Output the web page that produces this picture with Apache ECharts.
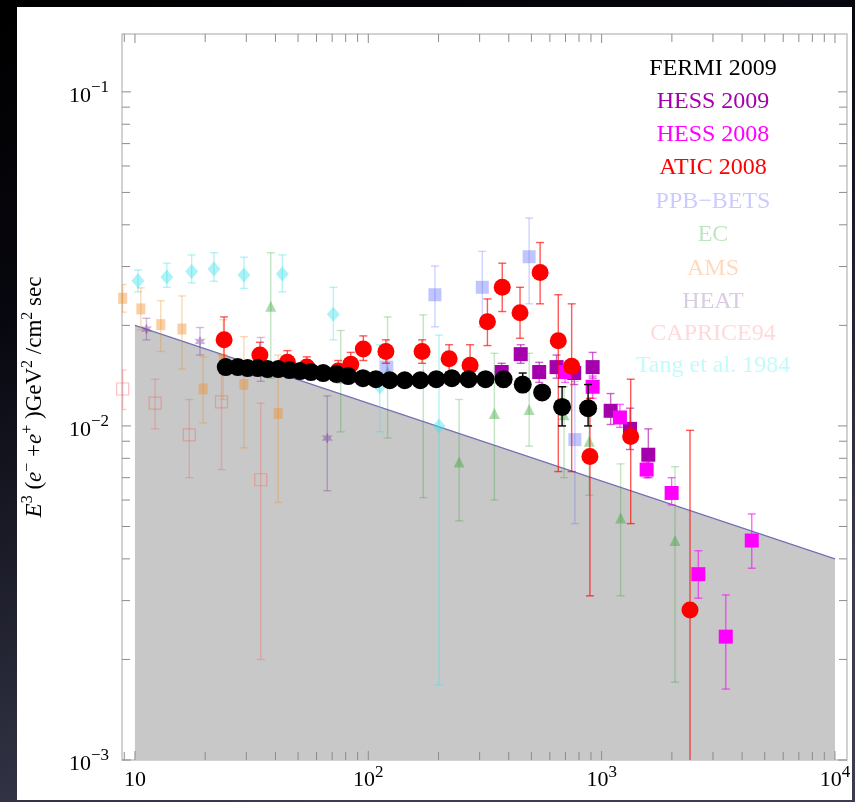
<!DOCTYPE html>
<html>
<head>
<meta charset="utf-8">
<script src="https://cdn.jsdelivr.net/npm/echarts@6/dist/echarts.min.js"></script>
<style>
  html, body { margin: 0; padding: 0; background: #000; }
  #chart { width: 855px; height: 802px; }
</style>
</head>
<body>
<div id="chart"></div>
<script>
// ---- Data: cosmic-ray electron spectrum, E^3 x flux (GeV^2 / cm^2 sec) ----
// Each row: [energy (GeV), E^3 flux, lower end of error bar, upper end of error bar]

const SERIES_NAMES = ['FERMI 2009', 'HESS 2009', 'HESS 2008', 'ATIC 2008', 'PPB\u2212BETS',
  'EC', 'AMS', 'HEAT', 'CAPRICE94', 'Tang et al. 1984'];

const FERMI_2009 = [
  [24.5, 0.0150, 0.0146, 0.0154], [27.6, 0.0150, 0.0146, 0.0154], [30.4, 0.0149, 0.0145, 0.0153],
  [33.6, 0.0149, 0.0145, 0.0153], [37.0, 0.0148, 0.0144, 0.0152], [41.1, 0.0148, 0.0144, 0.0152],
  [45.9, 0.0147, 0.0143, 0.0151], [51.0, 0.0146, 0.0142, 0.0150], [56.8, 0.0145, 0.0141, 0.0149],
  [64.1, 0.0144, 0.0140, 0.0148], [73.1, 0.0143, 0.0139, 0.0147], [82.0, 0.0141, 0.0137, 0.0145],
  [94.9, 0.0139, 0.0135, 0.0143], [107.8, 0.0138, 0.0134, 0.0142], [123.6, 0.0137, 0.0133, 0.0141],
  [143.2, 0.0137, 0.0133, 0.0141], [167.1, 0.0137, 0.0132, 0.0142], [195.7, 0.0138, 0.0133, 0.0143],
  [228.1, 0.0139, 0.0134, 0.0144], [269, 0.0138, 0.0132, 0.0144], [318, 0.0138, 0.0132, 0.0144],
  [380, 0.0138, 0.0131, 0.0145], [459, 0.0133, 0.0126, 0.0144], [556, 0.0126, 0.0120, 0.0131],
  [677, 0.0114, 0.0100, 0.0131], [875, 0.0113, 0.0100, 0.0133]
];

const HESS_2009 = [
  [373, 0.0145, 0.0137, 0.0154], [450, 0.0164, 0.0154, 0.0175], [540, 0.0145, 0.0135, 0.0155],
  [641, 0.0150, 0.0139, 0.0163], [763, 0.0144, 0.0133, 0.0155], [915, 0.0150, 0.0139, 0.0166],
  [1093, 0.0111, 0.0101, 0.0125], [1323, 0.0098, 0.0085, 0.0113], [1585, 0.0082, 0.0070, 0.0098]
];

const HESS_2008 = [
  [697, 0.0145, 0.0135, 0.0155], [915, 0.0131, 0.0121, 0.0141], [1198, 0.0106, 0.0099, 0.0116],
  [1559, 0.0074, 0.0070, 0.0078], [1995, 0.0063, 0.0058, 0.0070], [2597, 0.0036, 0.00305, 0.00423],
  [3404, 0.00234, 0.00163, 0.00312], [4399, 0.00454, 0.00375, 0.00545]
];

const ATIC_2008 = [
  [24.1, 0.0181, 0.0150, 0.0212], [34.3, 0.0163, 0.0149, 0.0178], [45.0, 0.0155, 0.0143, 0.0168],
  [54.5, 0.0150, 0.0140, 0.0161], [74.3, 0.0146, 0.0136, 0.0157], [84.1, 0.0153, 0.0142, 0.0166],
  [95.2, 0.0170, 0.0157, 0.0186], [119, 0.0167, 0.0154, 0.0181], [170, 0.0167, 0.0154, 0.0181],
  [222, 0.0159, 0.0145, 0.0175], [273, 0.0152, 0.0131, 0.0175], [324, 0.0205, 0.0174, 0.0240],
  [375, 0.0260, 0.0220, 0.0307], [447, 0.0218, 0.0183, 0.0260], [545, 0.0288, 0.0232, 0.0354],
  [652, 0.0180, 0.0073, 0.0247], [744, 0.0151, 0.0073, 0.0232], [891, 0.0081, 0.0031, 0.0121],
  [1332, 0.0093, 0.0051, 0.0138], [2392, 0.00281, 0.0007, 0.0097]
];

const PPB_BETS = [
  [120, 0.0150, 0.0135, 0.0166], [193, 0.0247, 0.0198, 0.0301], [308, 0.0260, 0.0198, 0.0333],
  [489, 0.0321, 0.0232, 0.0419], [768, 0.0091, 0.0051, 0.0136]
];

const EC = [
  [38.2, 0.0228, 0.0139, 0.0330], [76.2, 0.0139, 0.0096, 0.0193], [121, 0.0145, 0.0092, 0.0212],
  [172, 0.0142, 0.0061, 0.0215], [245, 0.0078, 0.0052, 0.0120], [347, 0.0109, 0.0060, 0.0165],
  [489, 0.0112, 0.0087, 0.0165], [690, 0.0108, 0.0070, 0.0131], [885, 0.0090, 0.0062, 0.0115],
  [1206, 0.0053, 0.0031, 0.0077], [2063, 0.00454, 0.00171, 0.00755]
];

const AMS = [
  [8.86, 0.0241, 0.0219, 0.0265], [10.6, 0.0224, 0.0194, 0.0259], [12.9, 0.0201, 0.0167, 0.0237],
  [15.9, 0.0195, 0.0148, 0.0245], [19.6, 0.0129, 0.0102, 0.0161], [23.9, 0.0158, 0.0120, 0.0208],
  [29.3, 0.0133, 0.0086, 0.0185], [41.1, 0.0109, 0.0059, 0.0163]
];

const HEAT = [
  [11.2, 0.0195, 0.0181, 0.0210], [19.0, 0.0179, 0.0163, 0.0197],
  [34.6, 0.0160, 0.0136, 0.0184], [66.7, 0.0092, 0.0064, 0.0123]
];

const CAPRICE94 = [
  [8.86, 0.0129, 0.0112, 0.0147], [12.2, 0.0117, 0.0098, 0.0138], [17.1, 0.0094, 0.0070, 0.0120],
  [23.5, 0.0118, 0.0074, 0.0163], [34.6, 0.0069, 0.0020, 0.0117]
];

const TANG_1984 = [
  [10.3, 0.0272, 0.0252, 0.0293], [13.7, 0.0279, 0.0260, 0.0307], [17.5, 0.0290, 0.0268, 0.0325],
  [21.8, 0.0295, 0.0271, 0.0330], [29.3, 0.0283, 0.0258, 0.0320], [42.8, 0.0285, 0.0252, 0.0325],
  [70.8, 0.0216, 0.0181, 0.0260], [112, 0.0131, 0.0096, 0.0175], [201, 0.0100, 0.00168, 0.0187]
];

// Power-law reference line, shaded underneath
const LIMIT_LINE = [[10, 0.02], [10000, 0.004]];

// Axis ranges
const X_MIN = 8.8, X_MAX = 11260;
const Y_MIN = 0.001, Y_MAX = 0.149;

// ---- Styling ----
const FONT = '"Liberation Serif", "DejaVu Serif", serif';

// six-pointed star marker
function starPath() {
  const pts = [];
  for (let i = 0; i < 12; i++) {
    const r = i % 2 === 0 ? 10 : 5;
    const a = -Math.PI / 2 + i * Math.PI / 6;
    pts.push((r * Math.cos(a)).toFixed(2) + ',' + (r * Math.sin(a)).toFixed(2));
  }
  return 'path://M' + pts.join(' L') + ' Z';
}

const STYLES = [
  // drawn from bottom to top
  { name: 'Tang et al. 1984', rows: TANG_1984, symbol: 'diamond', size: [13, 15], fill: 'rgba(60,225,235,0.42)', bar: 'rgba(60,225,235,0.38)', text: '#c2fbfb' },
  { name: 'CAPRICE94', rows: CAPRICE94, symbol: 'rect', size: 12, fill: 'rgba(0,0,0,0)', border: 'rgba(255,90,90,0.4)', bar: 'rgba(255,90,90,0.3)', text: '#ffdada' },
  { name: 'HEAT', rows: HEAT, symbol: starPath(), size: 11, fill: 'rgba(110,40,150,0.38)', bar: 'rgba(110,40,150,0.3)', text: '#dacbe2' },
  { name: 'AMS', rows: AMS, symbol: 'rect', size: [9, 11], fill: 'rgba(240,140,40,0.42)', bar: 'rgba(240,140,40,0.33)', text: '#ffd9bb' },
  { name: 'EC', rows: EC, symbol: 'triangle', size: [11, 11], fill: 'rgba(40,160,40,0.38)', bar: 'rgba(40,160,40,0.28)', text: '#c0e5c0' },
  { name: 'PPB\u2212BETS', rows: PPB_BETS, symbol: 'rect', size: 13, fill: 'rgba(100,110,250,0.4)', bar: 'rgba(100,110,250,0.3)', text: '#cbcbff' },
  { name: 'HESS 2009', rows: HESS_2009, symbol: 'rect', size: 14, fill: '#a400ac', bar: 'rgba(170,0,170,0.6)', text: '#a400ac' },
  { name: 'HESS 2008', rows: HESS_2008, symbol: 'rect', size: 14, fill: '#ff00ff', bar: 'rgba(255,0,255,0.6)', text: '#ff00ff' },
  { name: 'ATIC 2008', rows: ATIC_2008, symbol: 'circle', size: 17, fill: '#ff0000', bar: 'rgba(255,0,0,0.65)', text: '#ff0000' },
  { name: 'FERMI 2009', rows: FERMI_2009, symbol: 'circle', size: 18, fill: '#000000', bar: '#000000', text: '#000000' }
];

// Error bars through the cartesian scales
function errorBarSeries(st, z) {
  return {
    type: 'custom',
    name: st.name + ' errors',
    silent: true,
    clip: true,
    z: z,
    dimensions: ['e', 'v', 'lo', 'hi'],
    encode: { x: 'e', y: 'v' },
    data: st.rows,
    renderItem: function (params, api) {
      const x = api.value(0);
      const loRaw = api.value(2), hiRaw = api.value(3);
      const lo = Math.max(loRaw, Y_MIN), hi = Math.min(hiRaw, Y_MAX);
      const pTop = api.coord([x, hi]);
      const pBot = api.coord([x, lo]);
      const s = { stroke: st.bar, lineWidth: 1.4 };
      const cap = 4;
      const children = [
        { type: 'line', shape: { x1: pTop[0], y1: pTop[1], x2: pBot[0], y2: pBot[1] }, style: s },
        { type: 'line', shape: { x1: pTop[0] - cap, y1: pTop[1], x2: pTop[0] + cap, y2: pTop[1] }, style: s }
      ];
      if (loRaw >= Y_MIN) {
        children.push({ type: 'line', shape: { x1: pBot[0] - cap, y1: pBot[1], x2: pBot[0] + cap, y2: pBot[1] }, style: s });
      }
      return { type: 'group', children: children };
    }
  };
}

function markerSeries(st, z) {
  return {
    type: 'scatter',
    name: st.name,
    z: z,
    symbol: st.symbol,
    symbolSize: st.size,
    data: st.rows.map(function (r) { return [r[0], r[1]]; }),
    itemStyle: {
      color: st.fill,
      borderColor: st.border || 'rgba(0,0,0,0)',
      borderWidth: st.border ? 1.2 : 0,
      opacity: 1
    },
    emphasis: { disabled: true }
  };
}

// Frame ticks: major at powers of ten, minor at 2..9 times them
const X_TICKS = [];
for (let k = 0; k <= 4; k++) {
  for (let m = 1; m <= 9; m++) {
    const v = m * Math.pow(10, k);
    if (v > X_MIN && v < X_MAX) X_TICKS.push([v, m === 1]);
  }
}
const Y_TICKS = [];
for (let k = -3; k <= -1; k++) {
  for (let m = 1; m <= 9; m++) {
    const v = m * Math.pow(10, k);
    if (v > Y_MIN * 0.999 && v < Y_MAX) Y_TICKS.push([v, m === 1]);
  }
}
const TICK_DATA = [];
X_TICKS.forEach(function (t) {
  TICK_DATA.push([t[0], Y_MIN, 0, t[1] ? 1 : 0]);
  TICK_DATA.push([t[0], Y_MAX, 1, t[1] ? 1 : 0]);
});
Y_TICKS.forEach(function (t) {
  TICK_DATA.push([X_MIN, t[0], 2, t[1] ? 1 : 0]);
  TICK_DATA.push([X_MAX, t[0], 3, t[1] ? 1 : 0]);
});

const tickSeries = {
  type: 'custom',
  silent: true,
  z: 20,
  dimensions: ['x', 'y', 'side', 'major'],
  encode: { x: 'x', y: 'y' },
  data: TICK_DATA,
  renderItem: function (params, api) {
    const p = api.coord([api.value(0), api.value(1)]);
    const side = api.value(2);
    const L = api.value(3) ? 9 : 8;
    let shape;
    if (side === 0) shape = { x1: p[0], y1: p[1], x2: p[0], y2: p[1] - L };
    else if (side === 1) shape = { x1: p[0], y1: p[1], x2: p[0], y2: p[1] + L };
    else if (side === 2) shape = { x1: p[0], y1: p[1], x2: p[0] + L, y2: p[1] };
    else shape = { x1: p[0], y1: p[1], x2: p[0] - L, y2: p[1] };
    return { type: 'line', shape: shape, style: { stroke: '#8c8c8c', lineWidth: 1 } };
  }
};

// Series list
const series = [{
  type: 'line',
  name: 'limit',
  data: LIMIT_LINE,
  symbol: 'none',
  silent: true,
  z: 1,
  lineStyle: { color: '#7272b8', width: 1.3 },
  areaStyle: { color: '#c8c8c8', opacity: 1, origin: 'start' }
}];
STYLES.forEach(function (st, i) {
  series.push(errorBarSeries(st, 3 + i * 2));
  series.push(markerSeries(st, 4 + i * 2));
});
series.push(tickSeries);

// Colored series names, centred in the upper right
const LEGEND_Y = [69, 102, 135, 168, 202, 235, 269, 302, 334, 366];
const legendTexts = SERIES_NAMES.map(function (name, i) {
  const st = STYLES.filter(function (s) { return s.name === name; })[0];
  return {
    type: 'text',
    x: 713,
    y: LEGEND_Y[i],
    z: 30,
    style: {
      text: name,
      fill: st.text,
      font: '24px ' + FONT,
      align: 'center',
      verticalAlign: 'middle'
    }
  };
});

function powLabel(v, negative) {
  const p = Math.round(Math.log10(v));
  if (Math.abs(Math.log10(v) - p) > 1e-6) return '';
  if (p === 1 && !negative) return '{b|10}';
  return '{b|10}{s|' + (p < 0 ? '\u2212' + (-p) : p) + '}';
}

const labelRich = {
  b: { fontSize: 22, lineHeight: 32, fontFamily: FONT, color: '#000' },
  s: { fontSize: 17, padding: [0, 0, 16, 0], fontFamily: FONT, color: '#000' }
};

const option = {
  animation: false,
  textStyle: { fontFamily: FONT },
  graphic: [
    {
      type: 'rect', z: -20, silent: true,
      shape: { x: 0, y: 0, width: 855, height: 802 },
      style: {
        fill: new echarts.graphic.LinearGradient(0, 0, 0.35, 1, [
          { offset: 0, color: '#000000' },
          { offset: 0.35, color: '#07070f' },
          { offset: 1, color: '#3b3c50' }
        ])
      }
    },
    {
      type: 'rect', z: -19, silent: true,
      shape: { x: 17, y: 7, width: 835, height: 793 },
      style: { fill: '#ffffff' }
    }
  ].concat(legendTexts),
  grid: {
    left: 122, right: 8, top: 34, bottom: 42,
    show: true,
    backgroundColor: 'rgba(0,0,0,0)',
    borderColor: '#c4c4c4',
    borderWidth: 1.5
  },
  xAxis: {
    type: 'log',
    logBase: 10,
    min: X_MIN,
    max: X_MAX,
    axisLine: { show: false },
    axisTick: { show: false },
    splitLine: { show: false },
    axisLabel: {
      margin: 4,
      showMinLabel: false,
      showMaxLabel: false,
      formatter: function (v) { return powLabel(v, false); },
      rich: labelRich
    }
  },
  yAxis: {
    type: 'log',
    logBase: 10,
    min: Y_MIN,
    max: Y_MAX,
    axisLine: { show: false },
    axisTick: { show: false },
    splitLine: { show: false },
    axisLabel: {
      margin: 13,
      showMaxLabel: false,
      padding: [8, 0, 0, 0],
      formatter: function (v) { return powLabel(v, true); },
      rich: labelRich
    },
    name: '{i|E}{s|3}{n| (}{i|e}{s|\u2212}{n| +}{i|e}{s|+}{n| )GeV}{s|2}{n| /cm}{s|2}{n| sec}',
    nameLocation: 'middle',
    nameRotate: 90,
    nameGap: 72,
    nameTextStyle: {
      rich: {
        i: { fontSize: 23, fontStyle: 'italic', fontFamily: FONT, color: '#000', lineHeight: 30 },
        n: { fontSize: 23, fontFamily: FONT, color: '#000', lineHeight: 30 },
        s: { fontSize: 16, fontFamily: FONT, color: '#000', padding: [0, 0, 14, 0] }
      }
    }
  },
  series: series
};

const chart = echarts.init(document.getElementById('chart'), null, { renderer: 'canvas' });
chart.setOption(option);
</script>
</body>
</html>
